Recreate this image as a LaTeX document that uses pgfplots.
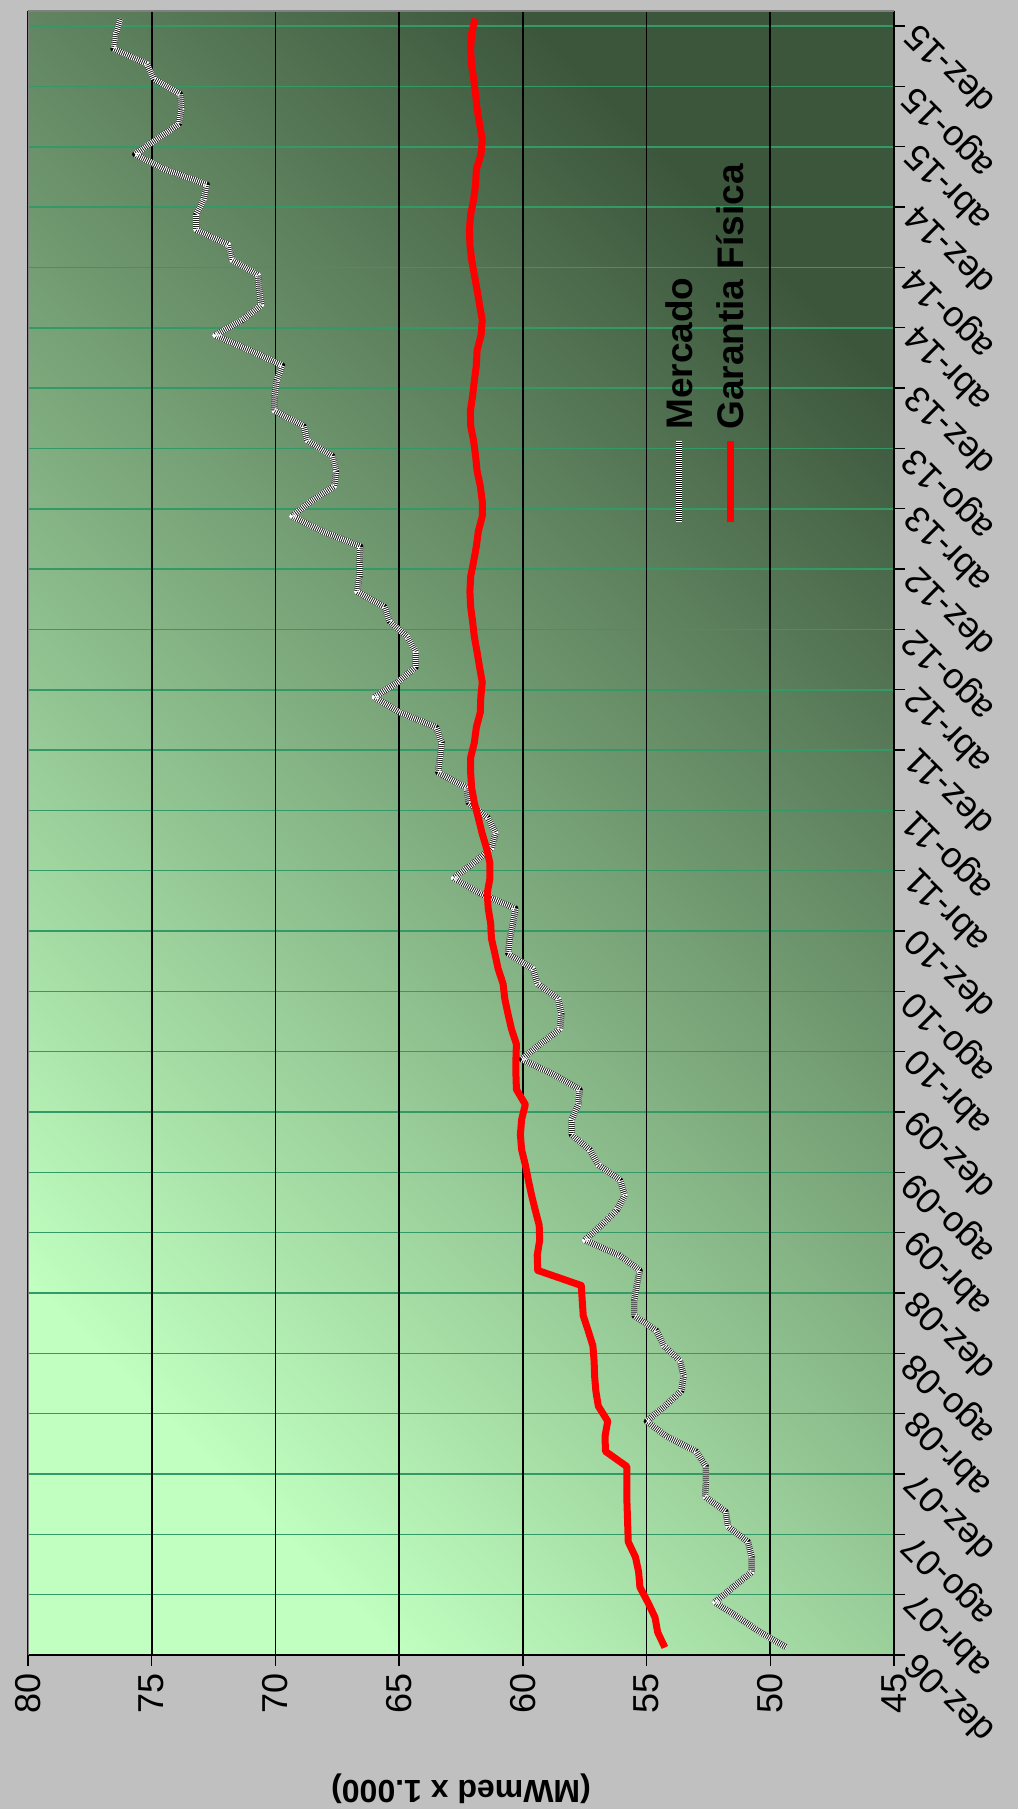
\documentclass[border=0pt]{standalone}
\usepackage{fontspec}
\setmainfont{Liberation Sans}
\usepackage{pgfplots}
\pgfplotsset{compat=1.18}
\definecolor{bgout}{RGB}{192,192,192}
\definecolor{lightg}{RGB}{192,255,192}
\definecolor{darkg}{RGB}{60,86,60}
\definecolor{gridg}{RGB}{51,153,102}
\definecolor{framegray}{RGB}{128,128,128}
\begin{document}
\rotatebox{90}{%
\begin{tikzpicture}
\fill[bgout] (-77pt,-62pt) rectangle (827.5pt,447pt);
\begin{axis}[
  at={(0pt,0pt)}, anchor=south west,
  scale only axis, width=822pt, height=433pt,
  xmin=0, xmax=109, ymin=45, ymax=80,
  axis x line*=bottom, axis y line*=left,
  axis line style={-, black, line width=1pt},
  axis background/.style={top color=lightg, bottom color=darkg, shading angle=45},
  xtick={0,4,...,108},
  xticklabels={dez-06,abr-07,ago-07,dez-07,abr-08,ago-08,dez-08,abr-09,ago-09,dez-09,abr-10,ago-10,dez-10,abr-11,ago-11,dez-11,abr-12,ago-12,dez-12,abr-13,ago-13,dez-13,abr-14,ago-14,dez-14,abr-15,ago-15,dez-15},
  ytick={45,50,...,80},
  xmajorgrids, ymajorgrids,
  x grid style={gridg, line width=0.8pt},
  y grid style={black, line width=0.8pt},
  tick align=outside, major tick length=5.5pt,
  tick style={black, line width=0.7pt},
  /pgf/number format/assume math mode=true,
  tick label style={font=\fontsize{18}{20}\selectfont},
  xticklabel style={rotate=45, anchor=east},
  yticklabel style={anchor=east},
  ylabel={(MWmed x 1.000)},
  ylabel style={at={(axis description cs:-0.0815,0.5)}, anchor=center, font=\bfseries\fontsize{16}{18}\selectfont},
  legend style={at={(0.6867,0.2188)}, anchor=west, draw=none, fill=none, inner sep=0pt,
    row sep=12.5pt, column sep=4pt,
    nodes={inner sep=0pt, text height=13pt, text depth=0pt},
    font=\bfseries\fontsize{18.5}{20}\selectfont},
  legend cell align=left,
  legend image code/.code={\draw[#1] (0pt,0pt) -- (40.5pt,0pt);},
]
\addplot[white, line width=3pt, dash pattern=on 0.5pt off 0.5pt, line join=round,
  preaction={draw=black, solid, line width=3pt}] coordinates {
(0.5,49.34) (1.5,50.4) (2.5,51.3) (3.5,52.24) (4.5,51.5) (5.5,50.75) (6.5,50.75) (7.5,50.9)
(8.5,51.7) (9.5,51.8) (10.5,52.64) (11.5,52.6) (12.5,52.6) (13.5,53.0) (14.5,54.2) (15.5,55.0)
(16.5,54.26) (17.5,53.6) (18.5,53.5) (19.5,53.65) (20.5,54.3) (21.5,54.6) (22.5,55.5) (23.5,55.5)
(24.5,55.4) (25.5,55.27) (26.5,56.1) (27.5,57.5) (28.5,56.82) (29.5,56.2) (30.5,55.88) (31.5,56.08)
(32.5,56.95) (33.5,57.3) (34.5,58.03) (35.5,58.03) (36.5,57.76) (37.5,57.7) (38.5,58.77) (39.5,60.05)
(40.5,59.3) (41.5,58.5) (42.5,58.44) (43.5,58.57) (44.5,59.4) (45.5,59.6) (46.5,60.6) (47.5,60.53)
(48.5,60.4) (49.5,60.3) (50.5,61.74) (51.5,62.8) (52.5,62.0) (53.5,61.27) (54.5,61.1) (55.5,61.41)
(56.5,62.19) (57.5,62.27) (58.5,63.43) (59.5,63.35) (60.5,63.28) (61.5,63.5) (62.5,64.98) (63.5,66.0)
(64.5,65.06) (65.5,64.33) (66.5,64.33) (67.5,64.67) (68.5,65.37) (69.5,65.6) (70.5,66.7) (71.5,66.6)
(72.5,66.6) (73.5,66.57) (74.5,68.1) (75.5,69.33) (76.5,68.56) (77.5,67.62) (78.5,67.55) (79.5,67.7)
(80.5,68.7) (81.5,68.87) (82.5,70.05) (83.5,70.03) (84.5,69.95) (85.5,69.72) (86.5,71.04) (87.5,72.44)
(88.5,71.35) (89.5,70.57) (90.5,70.65) (91.5,70.7) (92.5,71.76) (93.5,71.9) (94.5,73.21) (95.5,73.2)
(96.5,72.9) (97.5,72.77) (98.5,74.46) (99.5,75.68) (100.5,74.8) (101.5,73.9) (102.5,73.8) (103.5,73.85)
(104.5,74.92) (105.5,75.2) (106.5,76.55) (107.5,76.45) (108.5,76.25)
};
\addlegendentry{Mercado}
\addplot[red, line width=3.5pt, line join=round] coordinates {
(0.5,54.26) (1.5,54.55) (2.5,54.66) (3.5,54.95) (4.5,55.27) (5.5,55.32) (6.5,55.45) (7.5,55.74)
(8.5,55.76) (9.5,55.78) (10.5,55.8) (11.5,55.8) (12.5,55.8) (13.5,56.66) (14.5,56.68) (15.5,56.57)
(16.5,56.95) (17.5,57.05) (18.5,57.1) (19.5,57.12) (20.5,57.17) (21.5,57.36) (22.5,57.56) (23.5,57.6)
(24.5,57.64) (25.5,59.4) (26.5,59.42) (27.5,59.32) (28.5,59.34) (29.5,59.5) (30.5,59.65) (31.5,59.78)
(32.5,59.9) (33.5,60.05) (34.5,60.1) (35.5,60.05) (36.5,59.9) (37.5,60.26) (38.5,60.28) (39.5,60.28)
(40.5,60.26) (41.5,60.46) (42.5,60.6) (43.5,60.73) (44.5,60.8) (45.5,61.0) (46.5,61.13) (47.5,61.27)
(48.5,61.3) (49.5,61.4) (50.5,61.44) (51.5,61.33) (52.5,61.33) (53.5,61.47) (54.5,61.65) (55.5,61.8)
(56.5,61.96) (57.5,62.07) (58.5,62.11) (59.5,62.11) (60.5,61.96) (61.5,61.88) (62.5,61.72) (63.5,61.7)
(64.5,61.64) (65.5,61.75) (66.5,61.85) (67.5,61.96) (68.5,62.03) (69.5,62.11) (70.5,62.14) (71.5,62.11)
(72.5,61.99) (73.5,61.88) (74.5,61.8) (75.5,61.64) (76.5,61.64) (77.5,61.72) (78.5,61.85) (79.5,61.91)
(80.5,61.99) (81.5,62.11) (82.5,62.12) (83.5,62.03) (84.5,61.96) (85.5,61.88) (86.5,61.85) (87.5,61.69)
(88.5,61.64) (89.5,61.75) (90.5,61.85) (91.5,61.96) (92.5,62.07) (93.5,62.14) (94.5,62.16) (95.5,62.11)
(96.5,61.99) (97.5,61.91) (98.5,61.88) (99.5,61.69) (100.5,61.64) (101.5,61.75) (102.5,61.85) (103.5,61.91)
(104.5,61.99) (105.5,62.08) (106.5,62.11) (107.5,62.07) (108.5,61.93)
};
\addlegendentry{Garantia Física}
\draw[framegray, line width=0.6pt] (rel axis cs:0,1) -- (rel axis cs:1,1) -- (rel axis cs:1,0);
\end{axis}
\pgfresetboundingbox
\useasboundingbox (-77pt,-62pt) rectangle (827.5pt,447pt);
\end{tikzpicture}}
\end{document}
